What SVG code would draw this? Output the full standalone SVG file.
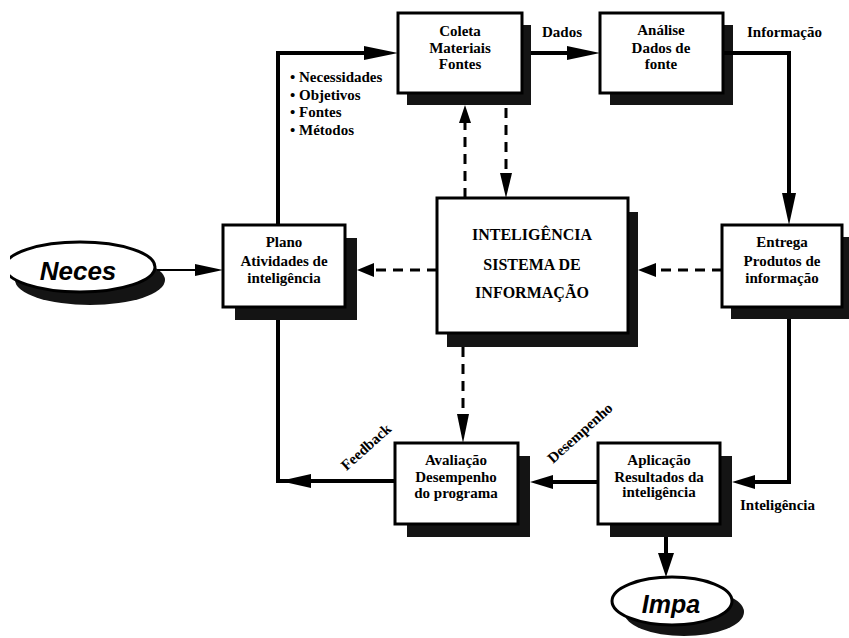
<svg xmlns="http://www.w3.org/2000/svg" width="849" height="638" viewBox="0 0 849 638">
<style>
.box{fill:#fff;stroke:#000;stroke-width:3}
.sh{fill:#141414}
.t{font-family:"Liberation Serif","Times New Roman",serif;font-weight:bold;font-size:15px;fill:#000;text-anchor:middle}
.tl{font-family:"Liberation Serif","Times New Roman",serif;font-weight:bold;font-size:15px;fill:#000}
.big{font-family:"Liberation Serif","Times New Roman",serif;font-weight:bold;font-size:16px;fill:#000;text-anchor:middle}
.ell{font-family:"Liberation Sans",Arial,sans-serif;font-weight:bold;font-style:italic;fill:#000;text-anchor:middle}
.ln{fill:none;stroke:#000;stroke-width:4;stroke-linejoin:miter}
.dash{fill:none;stroke:#000;stroke-width:3;stroke-dasharray:10 7}
.ah{fill:#000}
</style>
<defs>
<clipPath id="cl"><rect x="10" y="0" width="839" height="638"/></clipPath>
</defs>
<rect width="849" height="638" fill="#fff"/>

<g id="neces" clip-path="url(#cl)">
<ellipse cx="90" cy="280" rx="75" ry="25" class="sh"/>
<ellipse cx="80" cy="267" rx="75" ry="25" fill="#fff" stroke="#000" stroke-width="3"/>
<text x="78" y="280" class="ell" font-size="26">Neces</text>
</g>

<g id="impa">
<ellipse cx="684" cy="612" rx="60" ry="24" class="sh"/>
<ellipse cx="672" cy="601" rx="60" ry="24" fill="#fff" stroke="#000" stroke-width="3"/>
<text x="671" y="613" class="ell" font-size="25">Impa</text>
</g>

<g id="coleta">
<rect x="407" y="25" width="124" height="80" class="sh"/>
<rect x="398" y="13" width="124" height="80" class="box"/>
<text x="460" y="36" class="t">Coleta</text>
<text x="460" y="53" class="t">Materiais</text>
<text x="460" y="69" class="t">Fontes</text>
</g>

<g id="analise">
<rect x="610" y="25" width="123" height="80" class="sh"/>
<rect x="600" y="13" width="123" height="80" class="box"/>
<text x="661" y="35" class="t">Análise</text>
<text x="661" y="53" class="t">Dados de</text>
<text x="661" y="69" class="t">fonte</text>
</g>

<g id="plano">
<rect x="235" y="238" width="122" height="82" class="sh"/>
<rect x="223" y="225" width="122" height="82" class="box"/>
<text x="284" y="247" class="t">Plano</text>
<text x="284" y="266" class="t">Atividades de</text>
<text x="284" y="283" class="t">inteligência</text>
</g>

<g id="sistema">
<rect x="447" y="212" width="191" height="135" class="sh"/>
<rect x="437" y="198" width="191" height="135" class="box"/>
<text x="532" y="240" class="big">INTELIGÊNCIA</text>
<text x="532" y="270" class="big">SISTEMA DE</text>
<text x="532" y="298" class="big">INFORMAÇÃO</text>
</g>

<g id="entrega">
<rect x="731" y="237" width="120" height="82" class="sh"/>
<rect x="722" y="225" width="120" height="82" class="box"/>
<text x="782" y="247" class="t">Entrega</text>
<text x="782" y="266" class="t">Produtos de</text>
<text x="782" y="283" class="t">informação</text>
</g>

<g id="avaliacao">
<rect x="407" y="456" width="123" height="81" class="sh"/>
<rect x="395" y="443" width="123" height="81" class="box"/>
<text x="456" y="465" class="t">Avaliação</text>
<text x="456" y="482" class="t">Desempenho</text>
<text x="456" y="498" class="t">do programa</text>
</g>

<g id="aplicacao">
<rect x="610" y="456" width="122" height="81" class="sh"/>
<rect x="598" y="443" width="122" height="81" class="box"/>
<text x="659" y="465" class="t">Aplicação</text>
<text x="659" y="482" class="t">Resultados da</text>
<text x="659" y="497" class="t">inteligência</text>
</g>

<g id="connectors">
<polyline class="ln" points="278,225 278,53 366,53"/>
<polygon class="ah" points="364,46 398,53 364,60"/>
<line class="ln" x1="531" y1="53" x2="569" y2="53"/>
<polygon class="ah" points="567,46 600,53 567,60"/>
<polyline class="ln" points="723,53 789,53 789,195"/>
<polygon class="ah" points="782,193 789,225 796,193"/>
<polyline class="ln" points="789,319 789,482 755,482"/>
<polygon class="ah" points="755,475 732,482 755,489"/>
<line class="ln" x1="598" y1="482" x2="552" y2="482"/>
<polygon class="ah" points="553,475 530,482 553,489"/>
<polyline class="ln" points="278,320 278,481 395,481"/>
<polygon class="ah" points="311,474 280,481 311,488"/>
<line x1="157" y1="270" x2="197" y2="270" stroke="#000" stroke-width="2"/>
<polygon class="ah" points="195,264 223,270 195,276"/>
<line class="ln" x1="666" y1="537" x2="666" y2="555"/>
<polygon class="ah" points="658,553 666,577 674,553"/>
<line class="dash" x1="465" y1="198" x2="465" y2="122"/>
<polygon class="ah" points="459,123 465,105 471,123"/>
<line class="dash" x1="506" y1="108" x2="506" y2="175"/>
<polygon class="ah" points="500,173 506,198 512,173"/>
<line class="dash" x1="463" y1="347" x2="463" y2="416"/>
<polygon class="ah" points="457,414 463,443 469,414"/>
<line class="dash" x1="437" y1="270" x2="372" y2="270"/>
<polygon class="ah" points="374,263 357,270 374,277"/>
<line class="dash" x1="722" y1="270" x2="655" y2="270"/>
<polygon class="ah" points="656,263 638,270 656,277"/>
</g>

<g id="labels">
<text x="542" y="37" class="tl">Dados</text>
<text x="747" y="37" class="tl">Informação</text>
<text x="740" y="510" class="tl">Inteligência</text>
<text x="290" y="82" class="tl">• Necessidades</text>
<text x="290" y="100" class="tl">• Objetivos</text>
<text x="290" y="117" class="tl">• Fontes</text>
<text x="290" y="135" class="tl">• Métodos</text>
<text transform="translate(366,447) rotate(-42)" y="5" class="t">Feedback</text>
<text transform="translate(580,433) rotate(-42)" y="5" class="t">Desempenho</text>
</g>
</svg>
